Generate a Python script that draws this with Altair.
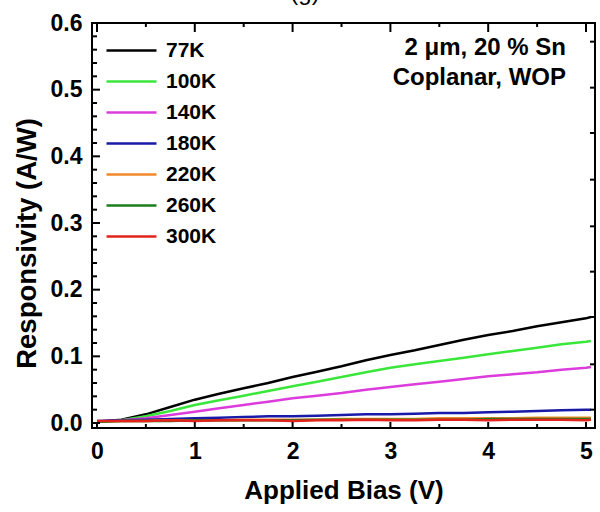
import altair as alt
import pandas as pd

# ---- data ----
BIAS = [0, 0.25, 0.5, 0.75, 1, 1.25, 1.5, 1.75, 2, 2.25, 2.5, 2.75, 3, 3.25, 3.5,
        3.75, 4, 4.25, 4.5, 4.75, 5, 5.05]
R_77K = [0.002, 0.005, 0.013, 0.024, 0.035, 0.044, 0.052, 0.060, 0.069, 0.077, 0.085,
         0.094, 0.102, 0.109, 0.117, 0.125, 0.132, 0.138, 0.145, 0.151, 0.157, 0.159]
R_100K = [0.002, 0.004, 0.010, 0.018, 0.027, 0.034, 0.041, 0.048, 0.055, 0.062, 0.069,
          0.076, 0.083, 0.088, 0.093, 0.098, 0.103, 0.108, 0.113, 0.118, 0.122, 0.123]
R_140K = [0.002, 0.004, 0.007, 0.012, 0.017, 0.022, 0.027, 0.032, 0.037, 0.041, 0.045,
          0.050, 0.054, 0.058, 0.062, 0.066, 0.070, 0.073, 0.076, 0.080, 0.083, 0.084]
R_180K = [0.003, 0.004, 0.005, 0.006, 0.007, 0.008, 0.009, 0.010, 0.010, 0.011, 0.012,
          0.013, 0.013, 0.014, 0.015, 0.015, 0.016, 0.017, 0.018, 0.019, 0.020, 0.020]
R_220K = [0.002, 0.003, 0.003, 0.004, 0.004, 0.004, 0.005, 0.005, 0.005, 0.005, 0.006,
          0.006, 0.006, 0.006, 0.007, 0.007, 0.007, 0.007, 0.008, 0.008, 0.008, 0.008]
R_260K = [0.002, 0.003, 0.003, 0.003, 0.004, 0.004, 0.004, 0.004, 0.004, 0.005, 0.005,
          0.005, 0.005, 0.005, 0.005, 0.005, 0.006, 0.006, 0.006, 0.006, 0.006, 0.006]
R_300K = [0.003, 0.003, 0.003, 0.004, 0.003, 0.004, 0.004, 0.004, 0.003, 0.004, 0.004,
          0.005, 0.004, 0.004, 0.005, 0.005, 0.004, 0.005, 0.005, 0.005, 0.004, 0.005]

SERIES = ["77K", "100K", "140K", "180K", "220K", "260K", "300K"]
VALUES = [R_77K, R_100K, R_140K, R_180K, R_220K, R_260K, R_300K]
COLORS = ["#000000", "#3be63b", "#dc3cdc", "#1a1aa8", "#f0892a", "#1b7d1b", "#e3231c"]

X_MAJOR = [0, 1, 2, 3, 4, 5]
X_MINOR = [0.5, 1.5, 2.5, 3.5, 4.5]
Y_MAJOR = [0.0, 0.1, 0.2, 0.3, 0.4, 0.5, 0.6]
Y_MINOR = [0.02, 0.04, 0.06, 0.08, 0.12, 0.14, 0.16, 0.18, 0.22, 0.24, 0.26, 0.28,
           0.32, 0.34, 0.36, 0.38, 0.42, 0.44, 0.46, 0.48, 0.52, 0.54, 0.56, 0.58]
Y_RIGHT = [0.020, 0.088, 0.159, 0.227, 0.295, 0.365, 0.435, 0.503, 0.572]

ANNOT = "2 \u03bcm, 20 % Sn\nCoplanar, WOP"
PANEL = "(g)"

# ---- build tables ----
rows = []
for name, vals in zip(SERIES, VALUES):
    for b, r in zip(BIAS, vals):
        rows.append({"bias": b, "resp": r, "T": name, "order": SERIES.index(name)})
df = pd.DataFrame(rows)

W, H = 503, 405
FONT = "Liberation Sans"
xscale = alt.Scale(domain=[-0.051, 5.092], nice=False, zero=False)
yscale = alt.Scale(domain=[-0.0075, 0.6], nice=False, zero=False)

AX_X = alt.Axis(values=X_MAJOR, format="d", ticks=False, domain=False, grid=False,
                labelFont=FONT, labelFontSize=23, labelFontWeight="bold",
                labelColor="black", labelPadding=12,
                title="Applied Bias (V)", titleFont=FONT, titleFontSize=26,
                titleFontWeight="bold", titleColor="black",
                titleBaseline="alphabetic", titleY=70)
AX_Y = alt.Axis(values=Y_MAJOR, format=".1f", ticks=False, domain=False, grid=False,
                labelFont=FONT, labelFontSize=23, labelFontWeight="bold",
                labelColor="black", labelPadding=10,
                title="Responsivity (A/W)", titleFont=FONT, titleFontSize=27.5,
                titleFontWeight="bold", titleColor="black", titleAngle=270,
                titleX=-65, titleY=220, titleBaseline="middle", titleAlign="center")

lines = alt.Chart(df).mark_line(strokeWidth=2.5).encode(
    x=alt.X("bias:Q", scale=xscale, axis=AX_X),
    y=alt.Y("resp:Q", scale=yscale, axis=AX_Y),
    color=alt.Color("T:N", scale=alt.Scale(domain=SERIES, range=COLORS),
                    legend=alt.Legend(title=None, orient="none", legendX=28, legendY=16,
                                      symbolType="M-2.5,0L2.5,0", symbolSize=400,
                                      symbolStrokeWidth=2.5, labelFont=FONT,
                                      labelFontSize=21, labelFontWeight="bold",
                                      labelColor="black", labelOffset=23, rowPadding=9,
                                      padding=0)),
    order=alt.Order("order:Q"),
)

def xticks(vals, y0, y1):
    return alt.Chart(pd.DataFrame({"bias": vals})).mark_rule(color="black", strokeWidth=2).encode(
        x=alt.X("bias:Q", scale=xscale, axis=AX_X), y=alt.value(y0), y2=alt.value(y1))

def yticks(vals, x0, x1):
    return alt.Chart(pd.DataFrame({"resp": vals})).mark_rule(color="black", strokeWidth=2).encode(
        y=alt.Y("resp:Q", scale=yscale, axis=AX_Y), x=alt.value(x0), x2=alt.value(x1))

ticks = [
    xticks(X_MAJOR, H, H - 6), xticks(X_MINOR, H, H - 4),
    xticks(X_MAJOR, 0, 9), xticks(X_MINOR, 0, 4),
    yticks(Y_MAJOR, 0, 8), yticks(Y_MINOR, 0, 5),
    yticks(Y_RIGHT, W, W - 5),
]

annot = alt.Chart(pd.DataFrame({"t": [ANNOT]})).mark_text(
    align="right", baseline="alphabetic", font=FONT, fontSize=24, fontWeight="bold",
    color="black", lineBreak="\n", lineHeight=30
).encode(text="t:N", x=alt.value(474), y=alt.value(32))

panel = alt.Chart(pd.DataFrame({"t": [PANEL]})).mark_text(
    align="center", baseline="alphabetic", font=FONT, fontSize=24, color="black"
).encode(text="t:N", x=alt.value(213), y=alt.value(-23))

chart = alt.layer(lines, *ticks, annot, panel).properties(
    width=W, height=H,
    background="white",
    padding={"left": 92, "top": 23, "right": 5, "bottom": 84},
    autosize=alt.AutoSizeParams(type="none"),
).configure_view(stroke="black", strokeWidth=2)

chart.save("out.html", embed_options={"renderer": "svg", "actions": False})
